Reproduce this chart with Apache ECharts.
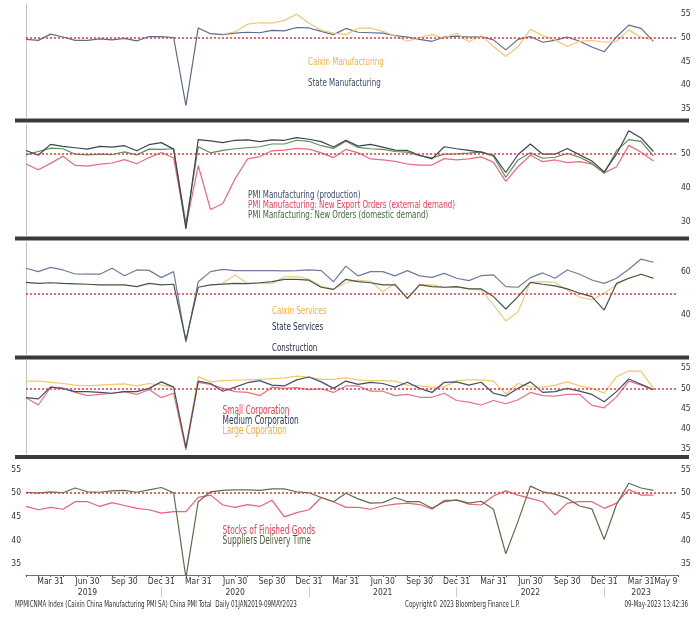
<!DOCTYPE html>
<html>
<head>
<meta charset="utf-8">
<script src="https://cdn.jsdelivr.net/npm/echarts@6.0.0/dist/echarts.min.js"></script>
<style>
  html, body { margin: 0; padding: 0; background: #fff; }
  #chart { width: 700px; height: 622px; }
</style>
</head>
<body>
<div id="chart"></div>
<script>
// month-end categories, Jan 2019 .. Jun 2023 (data runs to Apr 2023)
const months = [
  '2019-01','2019-02','2019-03','2019-04','2019-05','2019-06','2019-07','2019-08','2019-09','2019-10','2019-11','2019-12',
  '2020-01','2020-02','2020-03','2020-04','2020-05','2020-06','2020-07','2020-08','2020-09','2020-10','2020-11','2020-12',
  '2021-01','2021-02','2021-03','2021-04','2021-05','2021-06','2021-07','2021-08','2021-09','2021-10','2021-11','2021-12',
  '2022-01','2022-02','2022-03','2022-04','2022-05','2022-06','2022-07','2022-08','2022-09','2022-10','2022-11','2022-12',
  '2023-01','2023-02','2023-03','2023-04','2023-05','2023-06'
];
const xLabels = [
  '','','Mar 31','','','Jun 30\n2019','','','Sep 30','','','Dec 31',
  '','','Mar 31','','','Jun 30\n2020','','','Sep 30','','','Dec 31',
  '','','Mar 31','','','Jun 30\n2021','','','Sep 30','','','Dec 31',
  '','','Mar 31','','','Jun 30\n2022','','','Sep 30','','','Dec 31',
  '','','Mar 31\n2023','','May 9',''
];

// panel 1
const caixinMfg = [
  null,null,null,null,null,null,null,null,null,null,null,null,
  null,null,null,null,50.7,51.2,52.8,53.1,53.0,53.6,54.9,53.0,
  51.5,50.9,50.6,51.9,52.0,51.3,50.3,49.2,50.0,50.6,49.9,50.9,
  49.1,50.4,48.1,46.0,48.1,51.7,50.4,49.5,48.1,49.2,49.4,49.0,
  49.2,51.6,50.0,49.5
];
const stateMfg = [
  49.6,49.4,50.7,50.1,49.4,49.4,49.7,49.5,49.8,49.3,50.2,50.2,
  50.0,35.7,52.0,50.8,50.6,50.9,51.1,51.0,51.5,51.4,52.1,52.0,
  51.3,50.6,51.9,51.1,51.0,50.9,50.4,50.1,49.6,49.2,50.1,50.3,
  50.1,50.2,49.5,47.4,49.6,50.2,49.0,49.4,50.1,49.2,48.0,47.0,
  50.1,52.6,51.9,49.2
];
// panel 2
const mfgProduction = [
  50.9,49.5,52.7,52.1,51.7,51.3,52.1,51.9,52.3,50.8,52.6,53.2,
  51.3,27.8,54.1,53.7,53.2,53.9,54.0,53.5,54.0,53.9,54.7,54.2,
  53.5,51.9,53.9,52.2,52.7,51.9,51.0,50.9,49.5,48.4,52.0,51.4,
  50.9,50.4,49.5,44.4,49.7,52.8,49.8,49.8,51.5,49.6,47.8,44.6,
  49.8,56.7,54.6,50.6
];
const mfgExportOrders = [
  46.9,45.2,47.1,49.2,46.5,46.3,46.9,47.2,48.2,47.0,48.8,50.3,
  48.7,28.7,46.4,33.5,35.3,42.6,48.4,49.1,50.8,51.0,51.5,51.3,
  50.2,48.8,51.2,50.2,48.4,48.1,47.7,46.9,46.6,46.6,48.5,48.1,
  48.4,49.0,47.4,41.8,46.1,49.5,47.6,48.1,47.3,47.6,46.9,44.3,
  46.1,52.4,50.4,47.8
];
const mfgNewOrders = [
  49.6,50.6,51.6,51.4,49.8,49.6,49.8,49.7,50.5,49.6,51.3,51.2,
  51.4,29.3,52.0,50.2,50.9,51.4,51.7,52.0,52.8,52.8,53.9,53.6,
  52.3,51.5,53.6,51.8,51.4,51.2,50.6,50.4,49.4,48.7,49.8,49.9,
  50.1,50.5,49.2,43.0,48.1,50.2,48.6,48.9,50.0,48.9,47.1,44.2,
  50.8,54.1,53.6,49.2
];
// panel 3
const caixinServices = [
  null,null,null,null,null,null,null,null,null,null,null,null,
  null,null,null,null,55.1,58.7,54.8,54.8,54.7,57.9,58.1,56.7,
  53.4,52.0,55.1,56.3,55.8,50.9,54.7,47.8,54.3,54.1,52.8,53.0,
  52.5,51.6,44.7,37.2,41.5,55.3,55.6,55.3,51.6,48.4,47.1,50.2,
  54.3,57.2,59.1,57.2
];
const stateServices = [
  55.3,54.8,55.1,54.8,54.6,54.4,54.1,54.1,54.1,53.3,54.8,54.1,
  54.4,28.2,53.0,54.1,54.5,54.8,54.7,55.1,55.6,56.7,56.7,56.3,
  53.0,52.0,56.7,55.6,55.1,54.1,54.1,47.8,54.1,53.3,53.0,53.3,
  52.2,52.2,48.6,42.8,48.6,55.3,54.4,53.6,52.2,50.2,48.6,42.3,
  54.8,57.2,59.1,57.2
];
const construction = [
  61.9,60.3,62.3,61.1,59.2,59.1,59.1,61.9,58.4,61.1,60.9,57.5,
  60.3,27.3,55.6,60.3,61.4,60.8,60.8,60.8,60.8,60.7,60.8,61.1,
  60.8,55.6,62.9,58.3,60.3,60.3,58.3,60.8,58.3,57.6,59.5,57.2,
  56.1,58.4,58.8,53.3,53.0,57.5,59.7,57.2,61.1,59.1,56.4,54.8,
  57.2,61.4,66.2,64.7
];
// panel 4
const smallCorp = [
  47.7,45.9,50.3,50.1,49.0,48.2,48.5,48.8,49.2,48.5,49.7,47.7,
  48.8,34.8,51.5,51.0,50.0,49.2,49.0,48.2,50.3,50.0,50.2,49.7,
  49.9,49.0,50.6,50.6,49.3,49.3,48.2,48.5,47.8,47.8,48.8,47.0,
  46.6,45.9,47.0,46.2,47.2,49.0,48.2,48.1,48.5,48.5,45.8,45.2,
  47.9,51.8,50.8,49.7
];
const mediumCorp = [
  47.7,47.4,50.3,49.9,49.2,49.2,49.0,48.8,49.2,49.2,50.0,51.6,
  50.3,35.3,51.8,51.2,49.3,50.3,51.4,51.9,50.8,50.6,52.1,52.8,
  51.6,50.0,51.8,51.0,51.5,51.2,50.3,51.5,50.0,49.0,51.5,51.6,
  50.8,51.5,48.8,48.1,50.0,51.6,49.0,49.2,50.0,49.3,48.5,46.7,
  49.2,52.3,51.0,49.7
];
const largeCorp = [
  51.8,51.8,51.5,51.2,50.8,50.6,50.8,51.0,51.1,50.6,51.2,50.8,
  50.3,35.6,52.9,51.6,51.9,52.0,52.1,52.2,52.4,52.6,53.0,52.8,
  52.2,52.2,52.6,52.1,51.9,51.9,51.8,50.8,50.6,50.3,50.3,51.9,
  52.1,52.1,51.8,48.6,51.2,50.4,50.3,50.8,51.6,50.6,50.0,48.8,
  52.9,54.3,54.2,50.0
];
// panel 5
const finishedStocks = [
  47.2,46.5,47.0,46.6,48.2,48.2,47.2,48.0,47.4,46.8,46.5,45.8,
  46.1,46.1,49.1,49.6,47.5,47.0,47.6,47.2,48.5,45.0,45.9,46.5,
  49.1,48.2,47.0,47.0,46.6,47.3,47.7,47.9,47.6,46.6,48.5,48.5,
  47.7,47.5,49.4,50.5,49.6,48.9,48.2,45.4,47.9,48.2,48.2,46.8,
  47.9,50.8,49.6,49.6
];
const supplierDelivery = [
  50.2,50.0,50.3,50.1,51.1,50.3,50.2,50.5,50.6,50.2,50.7,51.2,
  50.1,32.1,48.2,50.3,50.6,50.7,50.7,50.6,50.9,50.9,50.3,50.1,
  49.1,48.2,50.0,48.8,47.9,48.0,49.1,48.2,48.2,46.8,48.2,48.6,
  47.9,48.3,46.6,37.2,44.1,51.5,50.3,49.8,48.9,47.3,46.7,40.2,
  47.6,52.1,51.1,50.6
];

const FONT = "'Liberation Sans Narrow', 'DejaVu Sans Condensed', 'Liberation Sans', sans-serif";

const chart = echarts.init(document.getElementById('chart'));

// pixel layout of the five stacked panels
const panels = [
  { top: 4,   height: 114, min: 33.1, max: 57.03, split: 5, step: 5 },
  { top: 125, height: 111, min: 25.7, max: 58.4,  split: 3, step: 10 },
  { top: 242, height: 112, min: 21.7, max: 74.2,  split: 3, step: 20 },
  { top: 360, height: 94,  min: 33.8, max: 57.0,  split: 5, step: 5 },
  { top: 462, height: 113, min: 32.7, max: 56.6,  split: 5, step: 5 }
];

const grids = panels.map(p => ({ left: 26, right: 22, top: p.top, height: p.height }));

const xAxes = panels.map((p, i) => ({
  type: 'category', gridIndex: i, data: months, boundaryGap: false,
  show: i === 4,
  axisLine: { show: i === 4, onZero: false, lineStyle: { color: '#5b7895', width: 1 } },
  axisTick: { show: i === 4, interval: 0, length: 2, lineStyle: { color: '#555' } },
  axisLabel: {
    show: i === 4, interval: 0, margin: 1, color: '#333', fontSize: 8.5, fontFamily: FONT,
    lineHeight: 11, formatter: (v, idx) => xLabels[idx]
  },
  splitLine: { show: false }
}));
// long year-divider ticks below the Dec 31 labels
xAxes.push({
  type: 'category', gridIndex: 4, data: months, boundaryGap: false, position: 'bottom', offset: 12,
  axisLine: { show: false, onZero: false },
  axisTick: { show: true, length: 10, interval: (idx) => xLabels[idx] === 'Dec 31', lineStyle: { color: '#c4cad2' } },
  axisLabel: { show: false }, splitLine: { show: false }
});

const yAxes = panels.map((p, i) => ({
  type: 'value', gridIndex: i, position: 'right', min: p.min, max: p.max, splitNumber: p.split,
  axisLine: { show: false }, axisTick: { show: false }, splitLine: { show: false },
  axisLabel: {
    margin: 3, color: '#333', fontSize: 8.5, fontFamily: FONT, showMinLabel: false, showMaxLabel: false,
    formatter: v => (Math.abs(v % p.step) < 1e-6 ? String(v) : '')
  }
}));
// thin left border on the upper four panels
for (let i = 0; i < 4; i++) {
  yAxes.push({
    type: 'value', gridIndex: i, position: 'left', min: panels[i].min, max: panels[i].max,
    axisLine: { show: true, onZero: false, lineStyle: { color: '#c2c2c2' } },
    axisTick: { show: false }, axisLabel: { show: false }, splitLine: { show: false }
  });
}
// bottom panel also carries labels on the left
yAxes.push({
  type: 'value', gridIndex: 4, position: 'left', min: panels[4].min, max: panels[4].max, splitNumber: 5,
  axisLine: { show: false }, axisTick: { show: false }, splitLine: { show: false },
  axisLabel: {
    margin: 5, color: '#333', fontSize: 8.5, fontFamily: FONT, showMinLabel: false, showMaxLabel: false,
    formatter: v => (Math.abs(v % 5) < 1e-6 ? String(v) : '')
  }
});

const REF_RED = '#e8383f';
function fiftyLine() {
  return {
    silent: true, symbol: ['none', 'none'],
    label: { show: false },
    lineStyle: { color: REF_RED, type: [2, 2], width: 1.6, opacity: 1 },
    data: [{ yAxis: 50 }]
  };
}

function line(name, data, panel, color, mark) {
  const s = {
    name, type: 'line', data, xAxisIndex: panel, yAxisIndex: panel,
    showSymbol: false, symbol: 'none', connectNulls: false,
    lineStyle: { color, width: 1.2 }, itemStyle: { color },
    emphasis: { disabled: true }
  };
  if (mark) s.markLine = fiftyLine();
  return s;
}

const series = [
  line('State Manufacturing', stateMfg, 0, '#5a6c8c'),
  line('Caixin Manufacturing', caixinMfg, 0, '#f4c677', true),

  line('PMI Manufacturing: New Export Orders (external demand)', mfgExportOrders, 1, '#ec6a80'),
  line('PMI Manfacturing: New Orders (domestic demand)', mfgNewOrders, 1, '#5f8c57'),
  line('PMI Manufacturing (production)', mfgProduction, 1, '#3c4454', true),

  line('Construction', construction, 2, '#747a9c'),
  line('Caixin Services', caixinServices, 2, '#f2cb80'),
  line('State Services', stateServices, 2, '#46544a', true),

  line('Small Corporation', smallCorp, 3, '#ec7080'),
  line('Large Coporation', largeCorp, 3, '#f6c868'),
  line('Medium Corporation', mediumCorp, 3, '#3e4e6c', true),

  line('Stocks of Finished Goods', finishedStocks, 4, '#ec6078'),
  line('Suppliers Delivery Time', supplierDelivery, 4, '#5e6e4c', true)
];

// in-panel legend captions: text, x, y, colour, font size
const captions = [
  ['Caixin Manufacturing', 308, 62, '#f0b44a', 11],
  ['State Manufacturing', 308, 83.5, '#3c4a66', 11],
  ['PMI Manufacturing (production)', 248, 195, '#3a4a6a', 11],
  ['PMI Manufacturing: New Export Orders (external demand)', 248, 205.5, '#e8405a', 11],
  ['PMI Manfacturing: New Orders (domestic demand)', 248, 215.5, '#3e6a3a', 11],
  ['Caixin Services', 272, 311, '#f0b040', 11],
  ['State Services', 272, 327.5, '#1e2a50', 11],
  ['Construction', 272, 348, '#2a2a48', 11],
  ['Small Corporation', 222.5, 411.5, '#e84050', 11.5],
  ['Medium Corporation', 222.5, 421.5, '#253a58', 11.5],
  ['Large Coporation', 222.5, 431.5, '#f2b040', 11.5],
  ['Stocks of Finished Goods', 222.5, 531.5, '#e84058', 11.5],
  ['Suppliers Delivery Time', 222.5, 541, '#4a5a3a', 11.5]
];
const NARROW = 0.72;

const graphic = [];
// heavy panel separators
[118.5, 236.5, 355.5, 455].forEach(y => {
  graphic.push({ type: 'rect', shape: { x: 15, y, width: 674, height: 4 }, style: { fill: '#3a3a3a' }, silent: true });
});
captions.forEach(([text, x, y, fill, size]) => {
  graphic.push({
    type: 'text', x, y, scaleX: NARROW, silent: true,
    style: { text, fill, font: size + 'px ' + FONT, verticalAlign: 'middle', textVerticalAlign: 'middle' }
  });
});
// footer
const footer = [
  ['MPMICNMA Index (Caixin China Manufacturing PMI SA) China PMI Total  Daily 01JAN2019-09MAY2023', 15, 'left'],
  ['Copyright\u00a9 2023 Bloomberg Finance L.P.', 405, 'left'],
  ['09-May-2023 13:42:36', 688, 'right']
];
footer.forEach(([text, x, align]) => {
  graphic.push({
    type: 'text', x, y: 605, scaleX: 0.73, silent: true,
    style: { text, fill: '#333', font: '8.5px ' + FONT, align, textAlign: align, verticalAlign: 'middle', textVerticalAlign: 'middle' }
  });
});

chart.setOption({
  animation: false,
  backgroundColor: '#fff',
  grid: grids,
  xAxis: xAxes,
  yAxis: yAxes,
  series,
  graphic
});
</script>
</body>
</html>
